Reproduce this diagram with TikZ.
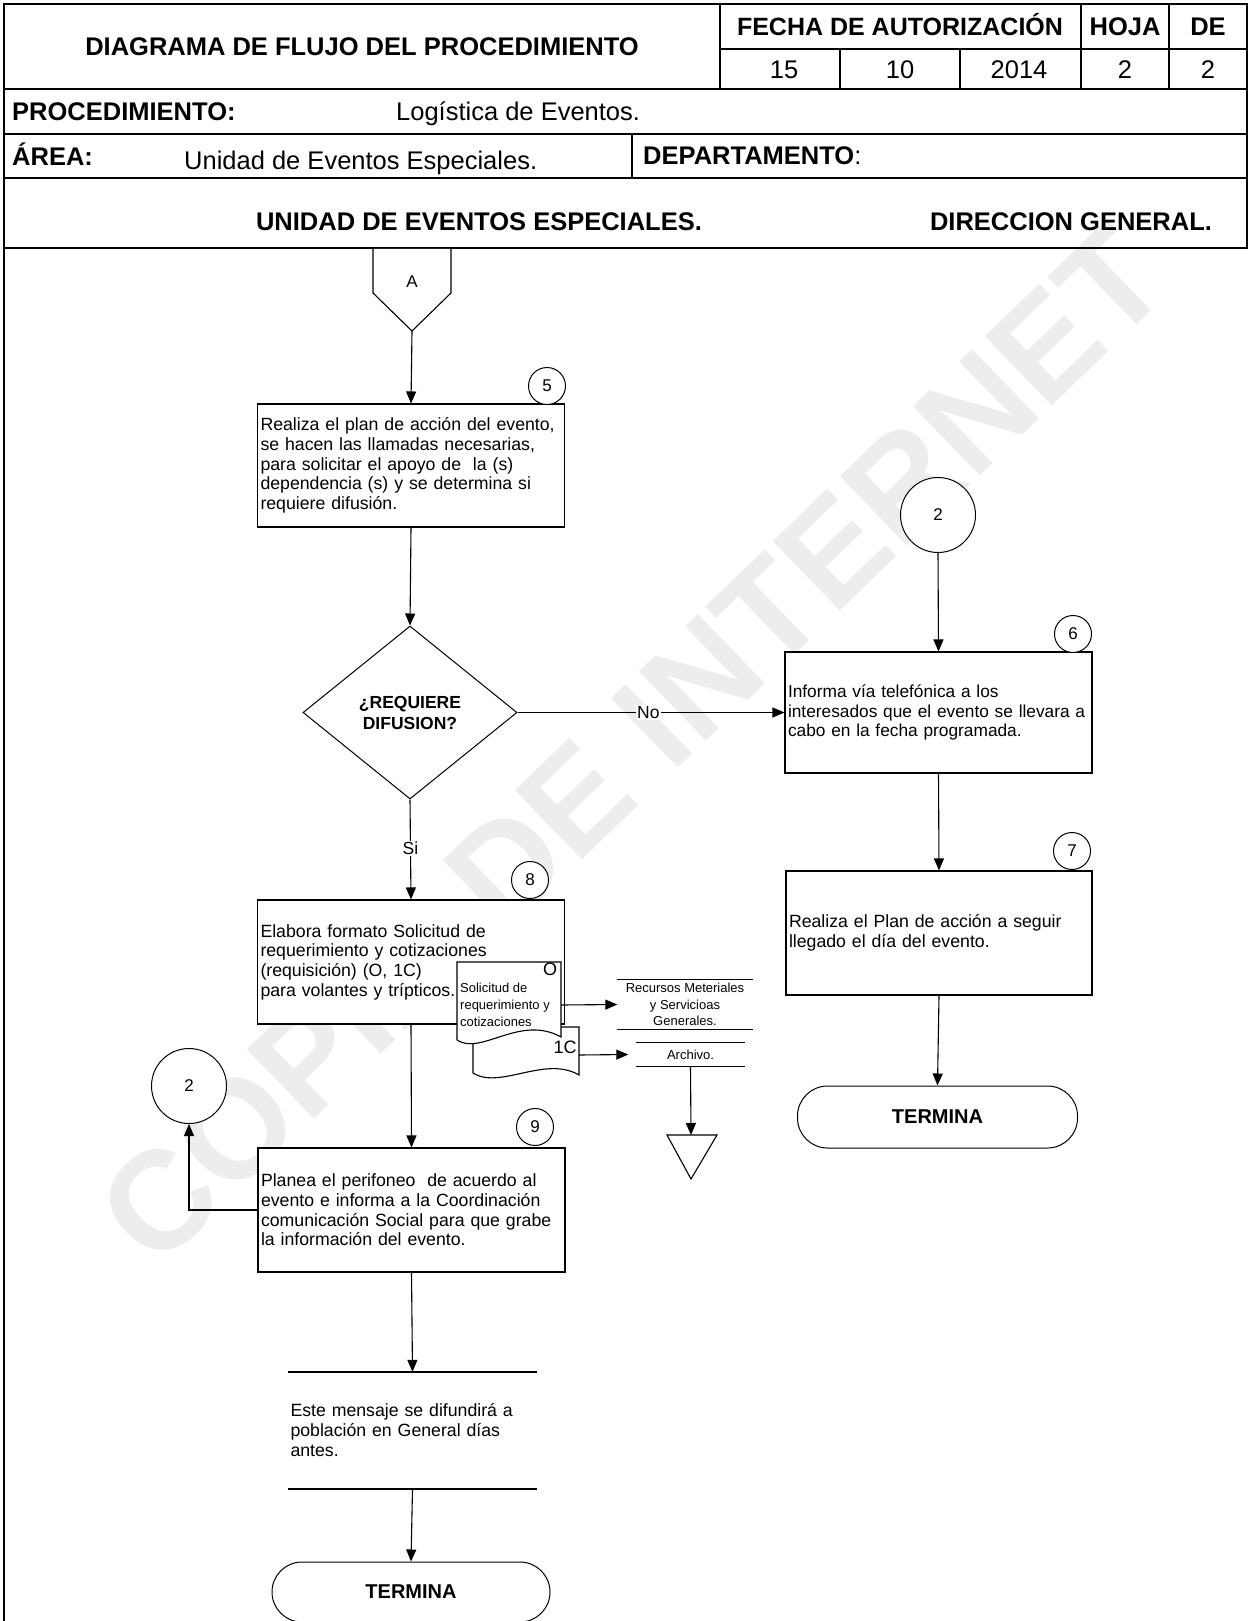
\documentclass[tikz,border=0pt]{standalone}
\usepackage{fontspec}
\setmainfont{Liberation Sans}
\usetikzlibrary{arrows.meta,shapes.geometric,calc}
\newcommand{\myfs}[2]{\fontsize{#1}{#2}\selectfont}
\begin{document}
\begin{tikzpicture}[x=1pt,y=-1pt,
  hline/.style={line width=2.2pt},
  hthin/.style={line width=1.4pt},
  plain/.style={line width=1.1pt},
  flow/.style={line width=1.1pt,-{Triangle[length=12pt,width=10pt]}},
  hdrb/.style={font=\bfseries\myfs{25.5}{28},text height=18.3pt,text depth=0pt,inner sep=0pt},
  hdr/.style={font=\myfs{25.5}{28},text height=18.3pt,text depth=0pt,inner sep=0pt},
  procbox/.style={draw,line width=1.1pt,fill=white,rectangle,inner xsep=3pt,inner ysep=0pt,align=left,font=\myfs{17.7}{19.7}},
  numc/.style={draw,circle,line width=1pt,fill=white,minimum size=37pt,inner sep=0pt,font=\myfs{17}{20}},
  bigc/.style={draw,circle,line width=1pt,fill=white,minimum size=75pt,inner sep=0pt,font=\myfs{17}{20}},
  lbl/.style={font=\myfs{17.5}{20},text height=12.6pt,text depth=0pt,inner sep=1pt,fill=white},
  termbox/.style={draw,line width=1pt,fill=white,rectangle,rounded corners=30pt,inner sep=0pt,font=\bfseries\myfs{20}{22}},
  smalltxt/.style={font=\myfs{13}{16.5},align=center,inner sep=0pt},
  wmark/.style={font=\bfseries\myfs{140}{140},text=gray!14,rotate=44,inner sep=0pt}
]
\useasboundingbox (0,0) rectangle (1249,1621);

% watermark
\node[wmark] (wm) at (632,745) {COPIA DE INTERNET};

% ---------------- header ----------------
\draw[hline] (4,4) -- (1247,4) -- (1247,248) -- (4,248) -- cycle;
\draw[hline] (4,89) -- (1247,89);
\draw[hline] (4,134) -- (1247,134);
\draw[hline] (4,178) -- (1247,178);
\draw[hline] (720,4) -- (720,89);
\draw[hthin] (720,49) -- (1247,49);
\draw[hline] (1081,4) -- (1081,89);
\draw[hline] (1169,4) -- (1169,89);
\draw[hthin] (840,49) -- (840,89);
\draw[hthin] (960,49) -- (960,89);
\draw[hline] (632,134) -- (632,178);
\draw[hline] (4,248) -- (4,1625);

\node[hdrb] (tit) at (362,46.5) {DIAGRAMA DE FLUJO DEL PROCEDIMIENTO};
\node[hdrb,font=\bfseries\myfs{25}{28}] (fecha) at (900,26) {FECHA DE AUTORIZACIÓN};
\node[hdrb] (hoja) at (1125,26) {HOJA};
\node[hdrb] (de) at (1208,26) {DE};
\node[hdr] (d15) at (784,69.5) {15};
\node[hdr] (d10) at (900,69.5) {10};
\node[hdr] (d2014) at (1019,69.5) {2014};
\node[hdr] (h2) at (1125,69.5) {2};
\node[hdr] (de2) at (1208,69.5) {2};
\node[hdrb,anchor=west] (proc) at (12,111) {PROCEDIMIENTO:};
\node[hdr,anchor=west] (procv) at (396,111) {Logística de Eventos.};
\node[hdrb,anchor=west] (area) at (12,156) {ÁREA:};
\node[hdr,anchor=west] (areav) at (184,160) {Unidad de Eventos Especiales.};
\node[hdrb,anchor=west] (dep) at (643,155) {DEPARTAMENTO\mdseries:};
\node[hdrb] (col1) at (479,221) {UNIDAD DE EVENTOS ESPECIALES.};
\node[hdrb] (col2) at (1071,221) {DIRECCION GENERAL.};

% ---------------- left column ----------------
\draw[plain,fill=white] (373,249) -- (373,293) -- (412,331) -- (451,293) -- (451,249);
\node[font=\myfs{17}{20},inner sep=0pt] (conA) at (412,282) {A};
\coordinate (Aapex) at (412,331);

\node[procbox,text width=301pt,minimum height=123pt] (b5) at (411,465.5)
 {\mbox{Realiza el plan de acción del evento,}\\se hacen las llamadas necesarias,\\para solicitar el apoyo de\ \ la (s)\\dependencia (s) y se determina si\\requiere difusión.};
\node[numc] (c5) at (547,386) {5};

\node[draw,diamond,line width=1pt,fill=white,minimum width=214pt,minimum height=173pt,inner sep=0pt,
      align=center,font=\bfseries\myfs{17.5}{21}] (dia) at (410,712.5) {¿REQUIERE\\DIFUSION?};

\node[procbox,text width=301pt,minimum height=124pt] (b8) at (411,962)
 {Elabora formato Solicitud de\\requerimiento y cotizaciones\\(requisición) (O, 1C)\\para volantes y trípticos.};
\node[numc] (c8) at (530,880) {8};

% documents
\draw[plain,fill=white] (473,1027) -- (473,1073) .. controls (500,1090) and (545,1055) .. (579,1075) -- (579,1027) -- cycle;
\node[font=\myfs{18}{20},inner sep=0pt] (lab1c) at (565,1047) {1C};
\draw[plain,fill=white] (457,962) -- (457,1040) .. controls (481,1056) and (520,1014) .. (561,1037) -- (561,962) -- cycle;
\node[font=\myfs{18}{20},inner sep=0pt] (labO) at (550,969) {O};
\node[font=\myfs{13}{17},align=left,anchor=west,inner sep=0pt] (doctxt) at (460,1005)
 {Solicitud de\\requerimiento y\\cotizaciones};
\coordinate (docOr) at (561,1005);
\coordinate (docCr) at (579,1055);

\node[smalltxt,minimum width=135pt,minimum height=50pt] (rec) at (685,1004.5)
 {Recursos Meteriales\\y Servicioas\\Generales.};
\draw[plain] (rec.north west) -- (rec.north east);
\draw[plain] (rec.south west) -- (rec.south east);
\node[smalltxt,minimum width=108pt,minimum height=23pt] (arch) at (690.5,1054.5) {Archivo.};
\draw[plain] (arch.north west) -- (arch.north east);
\draw[plain] (arch.south west) -- (arch.south east);
\draw[plain] (667,1135) -- (717,1135) -- (691,1179) -- cycle;
\coordinate (tri) at (691,1135);

\node[procbox,text width=301pt,minimum height=124pt] (b9) at (411.5,1210)
 {Planea el perifoneo\ \ de acuerdo al\\evento e informa a la Coordinación\\comunicación Social para que grabe\\la información del evento.};
\node[numc] (c9) at (535,1127) {9};
\node[bigc] (c2l) at (189,1086) {2};

\node[font=\myfs{17.7}{20},align=left,text width=244pt,inner xsep=2pt,minimum height=117pt] (ann) at (412.5,1430.5)
 {Este mensaje se difundirá a\\población en General días\\antes.};
\draw[plain] (288,1372) -- (537,1372);
\draw[plain] (288,1489) -- (537,1489);

\node[termbox,minimum width=278pt,minimum height=60pt] (termL) at (411,1592) {TERMINA};

% ---------------- right column ----------------
\node[bigc] (c2r) at (938,515) {2};
\node[procbox,font=\myfs{17.3}{19.7},text width=301pt,minimum height=121pt] (b6) at (938.5,712.5)
 {Informa vía telefónica a los\\\mbox{interesados que el evento se llevara a}\\cabo en la fecha programada.};
\node[numc] (c6) at (1073,634) {6};
\node[procbox,text width=300pt,minimum height=124pt] (b7) at (939,933)
 {Realiza el Plan de acción a seguir\\llegado el día del evento.};
\node[numc] (c7) at (1072,851) {7};
\node[termbox,minimum width=280pt,minimum height=62pt] (termR) at (937.5,1117) {TERMINA};

% ---------------- connectors ----------------
\draw[flow] (Aapex) -- (b5.north);
\draw[flow] (b5.south) -- (dia.north);
\draw[flow] (dia.east) -- node[lbl,pos=0.49] (lno) {No} (b6.west);
\draw[flow] (dia.south) -- node[lbl,pos=0.49] (lsi) {Si} (b8.north);
\draw[flow] (docOr) -- (rec.west);
\draw[flow] (docCr) -- ([xshift=-8pt]arch.west);
\draw[flow] (arch.south) -- (tri);
\draw[flow] (b8.south) -- (b9.north);
\draw[flow] (b9.west) -| (c2l.south);
\draw[flow] (b9.south) -- (ann.north);
\draw[flow] (ann.south) -- (termL.north);
\draw[flow] (c2r.south) -- (b6.north);
\draw[flow] (b6.south) -- (b7.north);
\draw[flow] (b7.south) -- (termR.north);
\end{tikzpicture}
\end{document}
